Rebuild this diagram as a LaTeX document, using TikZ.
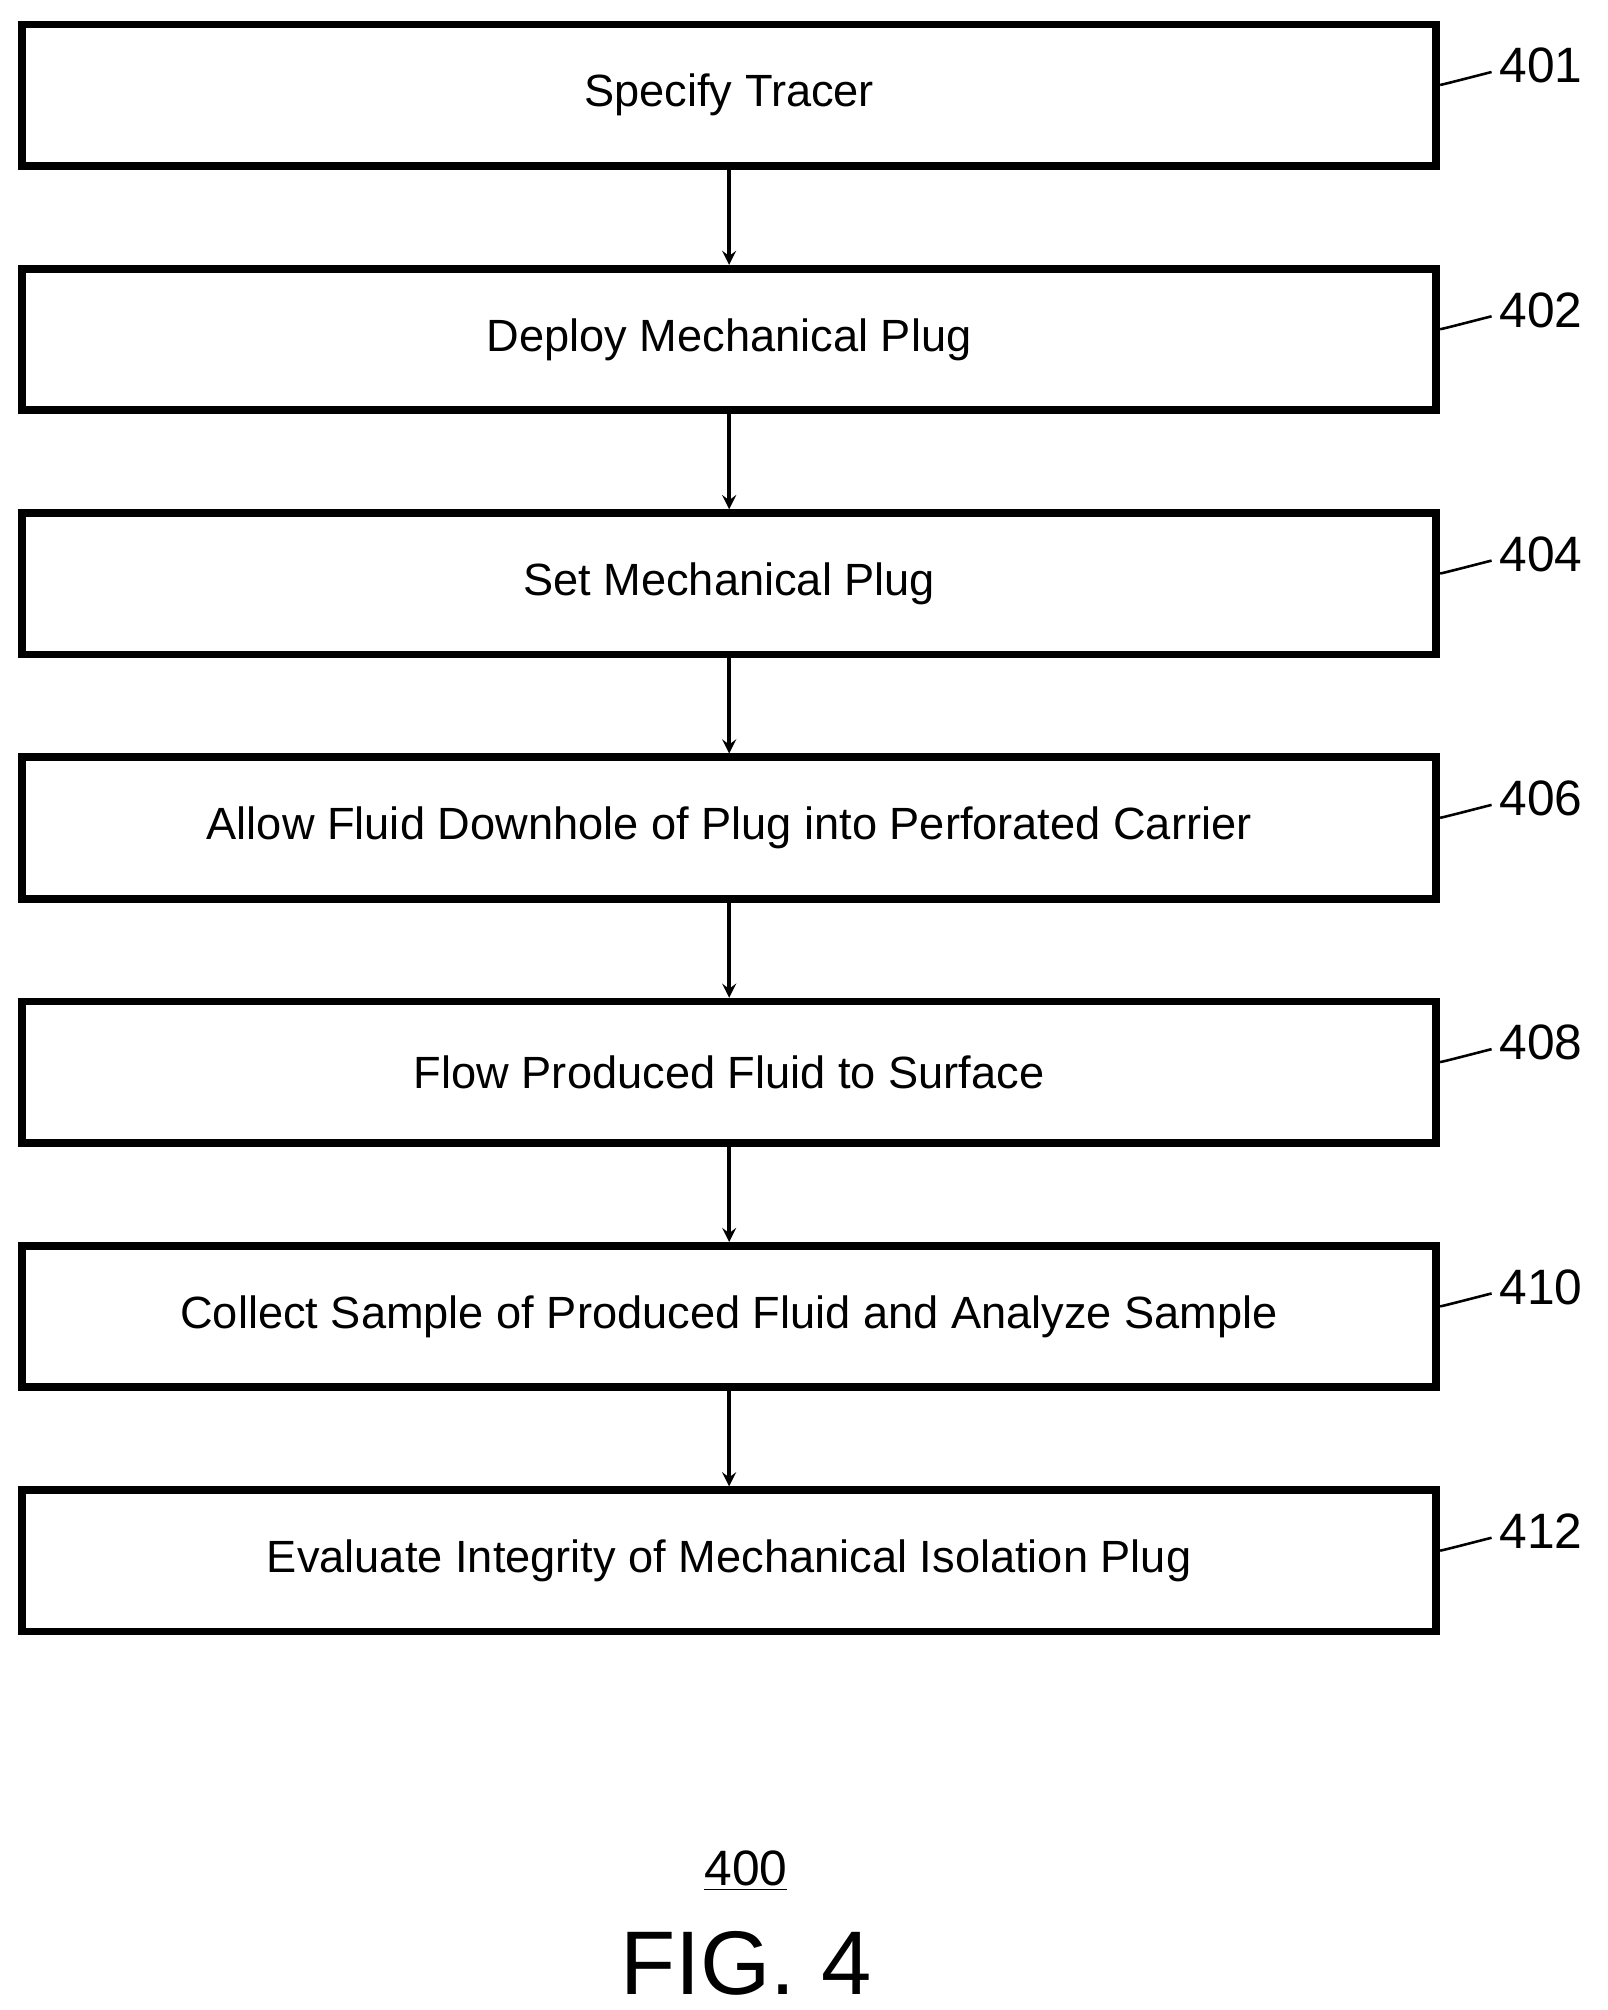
\documentclass[tikz,border=0pt]{standalone}
\usepackage{fontspec}
\setmainfont{Liberation Sans}
\usetikzlibrary{positioning}
\tikzset{
  stepbox/.style={draw, line width=1.2mm, minimum width=22cm, minimum height=2.2cm, font=\fontsize{20}{24}\selectfont},
  flow/.style={->, line width=0.6mm, >=stealth},
  ref/.style={font=\fontsize{22}{26}\selectfont, anchor=west}
}
\begin{document}
\begin{tikzpicture}[x=0.02cm, y=-0.02cm]
	\useasboundingbox (0,0) rectangle (1250,1563);

	\node[stepbox] (s401) at (567,74) {Specify Tracer};
	\node[stepbox, below=1.48cm of s401] (s402) {Deploy Mechanical Plug};
	\node[stepbox, below=1.48cm of s402] (s404) {Set Mechanical Plug};
	\node[stepbox, below=1.48cm of s404] (s406) {Allow Fluid Downhole of Plug into Perforated Carrier};
	\node[stepbox, below=1.48cm of s406] (s408) {Flow Produced Fluid to Surface};
	\node[stepbox, below=1.48cm of s408] (s410) {Collect Sample of Produced Fluid and Analyze Sample};
	\node[stepbox, below=1.48cm of s410] (s412) {Evaluate Integrity of Mechanical Isolation Plug};

	\foreach \a/\b in {s401/s402, s402/s404, s404/s406, s406/s408, s408/s410, s410/s412}
		\draw[flow] (\a) -- (\b);

	% reference numerals
	\foreach \s in {401,402,404,406,408,410,412} {
		\node[ref] (l\s) at ([xshift=0.8cm, yshift=-0.7cm]s\s.north east) {\s};
		\draw[line width=0.4mm] ([yshift=-1cm]s\s.north east) .. controls +(0.3,0.3) and +(-0.3,-0.05) .. ([yshift=-0.1cm]l\s.west);
	}

	\node[font=\fontsize{22}{26}\selectfont] (n400) at (580,1455) {\underline{400}};
	\node[font=\fontsize{40}{46}\selectfont] (fig) at (580,1527) {FIG. 4};
\end{tikzpicture}
\end{document}
